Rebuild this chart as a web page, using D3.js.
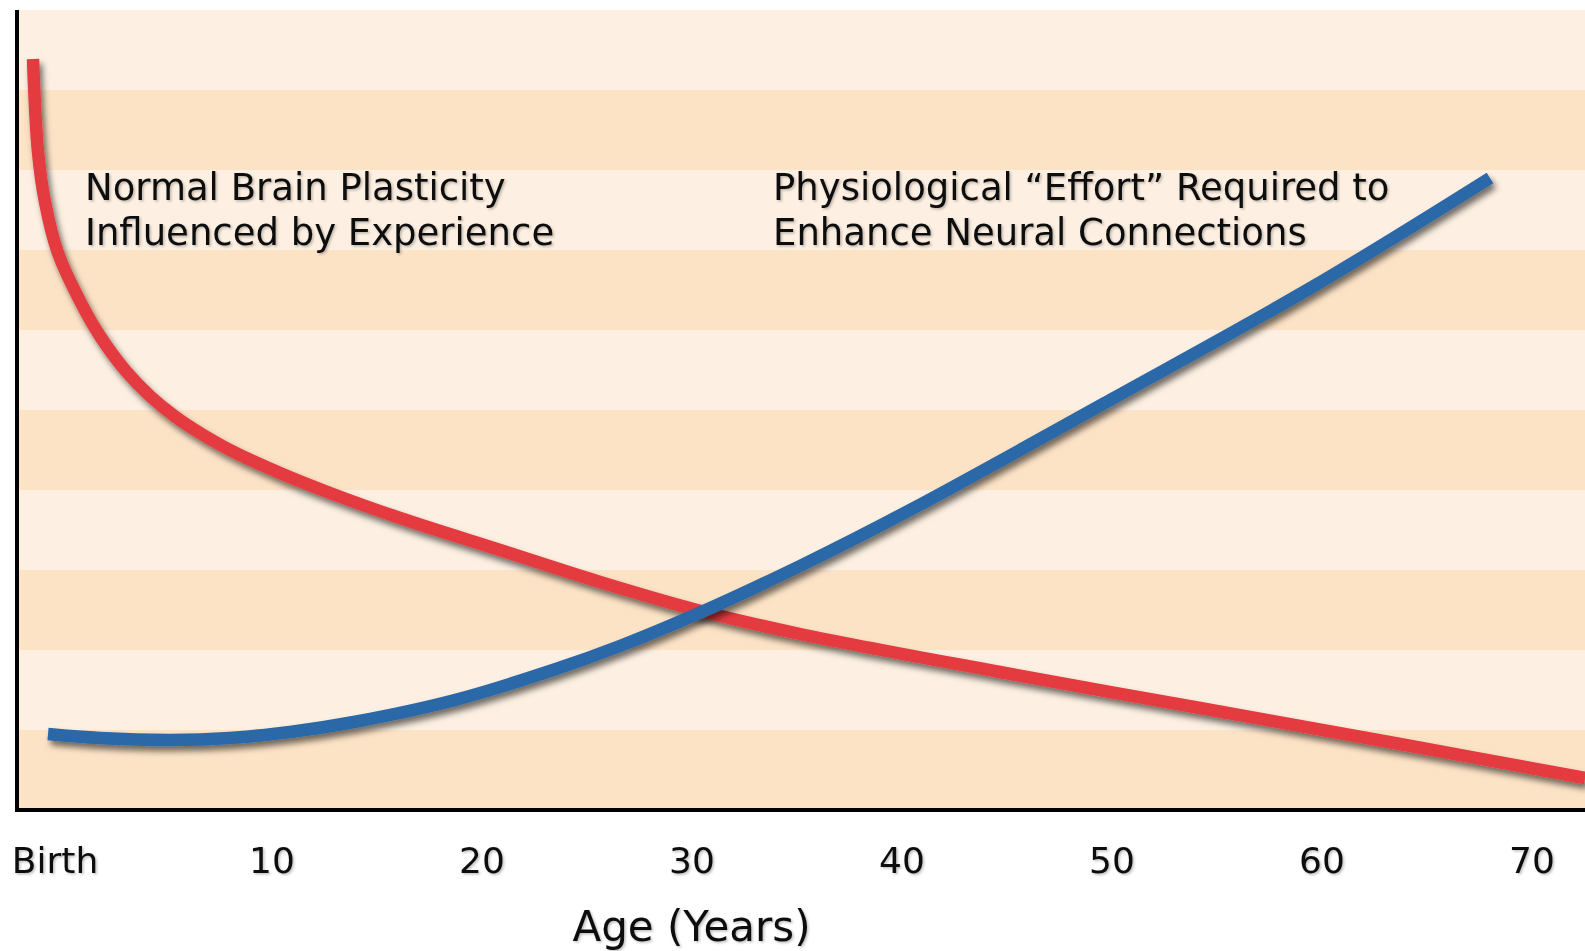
<!DOCTYPE html>
<html>
<head>
<meta charset="utf-8">
<script src="https://cdn.jsdelivr.net/npm/d3@7"></script>
<style>
  html, body { margin: 0; padding: 0; background: #ffffff; }
  svg { display: block; }
  text { font-family: "DejaVu Sans", Verdana, sans-serif; }
</style>
</head>
<body>
<svg id="chart" width="1585" height="951"></svg>
<script>
// ---- data ----
const tickAges   = [0, 10, 20, 30, 40, 50, 60, 70];
const tickLabels = ["Birth", "10", "20", "30", "40", "50", "60", "70"];

// Normal brain plasticity (red), age in years vs. relative level (0-100)
const plasticityAge = [-1.357, -1.119, -0.786, -0.167, 0.929, 1.833, 3.024, 4.214, 5.405, 6.595, 8.024, 10.405, 12.786, 16.119, 20.881, 25.643, 30.262, 35.167, 44.69, 54.21, 63.74, 72.55];
const plasticityVal = [93.875, 82.25, 76.0, 69.625, 63.375, 59.25, 55.0, 51.75, 49.19, 47.125, 45.0, 42.125, 39.625, 36.5, 32.5, 28.5, 25.0, 22.0, 17.25, 12.75, 8.25, 4.0];

// Physiological effort (blue)
const effortAge = [-0.643, 1.833, 5.167, 8.024, 10.881, 13.929, 18.738, 23.548, 26.595, 30.262, 35.167, 40.405, 50.024, 59.643, 68.024];
const effortVal = [9.5, 9.0, 8.75, 9.0, 9.75, 11.0, 13.75, 17.625, 20.5, 24.5, 30.5, 37.5, 51.375, 65.5, 79.0];

const bandLevels = [0, 10, 20, 30, 40, 50, 60, 70, 80, 90];

const labelPlasticity = ["Normal Brain Plasticity", "Influenced by Experience"];
const labelEffort = ["Physiological \u201CEffort\u201D Required to", "Enhance Neural Connections"];
const axisTitle = "Age (Years)";

// ---- layout ----
const W = 1585, H = 951;
const plotLeft = 17, plotTop = 10, plotBottom = 810, plotRight = 1585;

const x = d3.scaleLinear().domain([0, 70]).range([61.5, 61.5 + 70 * 21.0]);
const y = d3.scaleLinear().domain([0, 100]).range([plotBottom, plotTop]);

const svg = d3.select("#chart");
const defs = svg.append("defs");

const sh = defs.append("filter").attr("id", "lineShadow")
  .attr("x", "-10%").attr("y", "-10%").attr("width", "130%").attr("height", "130%");
sh.append("feDropShadow").attr("dx", 3).attr("dy", 5).attr("stdDeviation", 3)
  .attr("flood-color", "#000").attr("flood-opacity", 0.55);

const tsh = defs.append("filter").attr("id", "textShadow")
  .attr("x", "-5%").attr("y", "-20%").attr("width", "110%").attr("height", "150%");
tsh.append("feDropShadow").attr("dx", 1.5).attr("dy", 1.5).attr("stdDeviation", 1)
  .attr("flood-color", "#000").attr("flood-opacity", 0.25);

defs.append("clipPath").attr("id", "plotClip").append("rect")
  .attr("x", plotLeft).attr("y", 0).attr("width", plotRight - plotLeft).attr("height", plotBottom);

// background bands
svg.append("g").selectAll("rect").data(bandLevels).join("rect")
  .attr("x", plotLeft)
  .attr("y", d => y(d + 10))
  .attr("width", plotRight - plotLeft)
  .attr("height", d => y(d) - y(d + 10))
  .attr("fill", (d, i) => (i % 2 === 0) ? "#fde3c6" : "#fdf0e2");

// lines
const line = d3.line()
  .x(d => x(d[0]))
  .y(d => y(d[1]))
  .curve(d3.curveCatmullRom.alpha(0.5));

const plasticity = plasticityAge.map((a, i) => [a, plasticityVal[i]]);
const effort = effortAge.map((a, i) => [a, effortVal[i]]);

const gLines = svg.append("g").attr("clip-path", "url(#plotClip)");
gLines.append("path")
  .attr("d", line(plasticity))
  .attr("fill", "none")
  .attr("stroke", "#e33b3f")
  .attr("stroke-width", 12.5)
  .attr("stroke-linecap", "butt")
  .attr("filter", "url(#lineShadow)");
gLines.append("path")
  .attr("d", line(effort))
  .attr("fill", "none")
  .attr("stroke", "#2a67a8")
  .attr("stroke-width", 12.5)
  .attr("stroke-linecap", "butt")
  .attr("filter", "url(#lineShadow)");

// axes lines
svg.append("line")
  .attr("x1", plotLeft).attr("x2", plotLeft)
  .attr("y1", plotTop).attr("y2", plotBottom + 2)
  .attr("stroke", "#000").attr("stroke-width", 4);
svg.append("line")
  .attr("x1", plotLeft - 2).attr("x2", plotRight)
  .attr("y1", plotBottom).attr("y2", plotBottom)
  .attr("stroke", "#000").attr("stroke-width", 4);

// x axis labels
const xAxis = d3.axisBottom(x)
  .tickValues(tickAges)
  .tickFormat((d, i) => tickLabels[i])
  .tickSize(0)
  .tickPadding(0);
const gx = svg.append("g").attr("transform", `translate(0, 873)`).call(xAxis);
gx.select(".domain").remove();
gx.selectAll("text")
  .attr("y", 0).attr("dy", 0)
  .attr("dx", (d, i) => i === 0 ? -7 : 0)
  .style("font-family", "'DejaVu Sans', Verdana, sans-serif")
  .style("font-size", "36px")
  .attr("fill", "#111")
  .attr("filter", "url(#textShadow)");

// axis title
svg.append("text")
  .attr("x", x(30))
  .attr("y", 941)
  .attr("text-anchor", "middle")
  .style("font-size", "42px")
  .attr("fill", "#111")
  .attr("filter", "url(#textShadow)")
  .text(axisTitle);

// annotations
function annotate(lines, left) {
  const t = svg.append("text")
    .attr("x", left).attr("y", 200)
    .style("font-size", "37px")
    .attr("fill", "#111")
    .attr("filter", "url(#textShadow)");
  lines.forEach((s, i) => {
    t.append("tspan").attr("x", left).attr("y", 200 + i * 45).text(s);
  });
}
annotate(labelPlasticity, 85);
annotate(labelEffort, 773);
</script>
</body>
</html>
